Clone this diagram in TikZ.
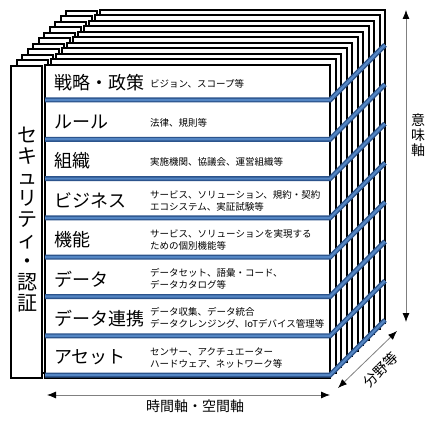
\documentclass[tikz,border=0pt]{standalone}
\usepackage{fontspec}
\setmainfont{Noto Sans CJK JP}
\usepackage{xcolor}
\usetikzlibrary{arrows.meta, positioning}
\definecolor{barline}{RGB}{44,84,140}
\definecolor{barfill}{RGB}{84,134,196}

\begin{document}
\begin{tikzpicture}[x=1pt, y=-1pt,
  layer/.style={draw=black, line width=2pt, fill=white},
  title/.style={anchor=west, inner sep=0pt, font=\fontsize{18}{20}\selectfont},
  note/.style={anchor=west, align=left, inner sep=0pt, font=\fontsize{9.5}{12}\selectfont},
  axis/.style={gray, line width=0.8pt,
    {Latex[black,length=9pt,width=7pt]}-{Latex[black,length=9pt,width=7pt]}},
  axlabel/.style={align=center, inner sep=0pt, font=\fontsize{14}{15}\selectfont}]
  \useasboundingbox (0,0) rectangle (431,425);

  % stacked layers, back to front
  \foreach \k in {10,...,1}{
    \draw[layer] ({11+5.5*\k},{66-5.5*\k}) rectangle ({42+5.5*\k},{378-5.5*\k});
    \draw[layer] ({45+5.5*\k},{65-5.5*\k}) rectangle ({330+5.5*\k},{378-5.5*\k});
  }
  \draw[layer] (11,66) rectangle (42,378);
  \draw[layer] (45,65) rectangle (330,378);

  % blue separators
  \def\bar#1{
    \draw[barline, line width=5pt] (45,#1) -- (330,#1) -- (385,#1-55);
    \draw[barfill, line width=2.2pt] (45,#1) -- (330,#1) -- (385,#1-55);
  }
  \foreach \i in {0,...,7}{
    \pgfmathsetmacro{\yy}{100+39.3*\i}
    \bar{\yy}
  }

  % security column
  \node[align=center, inner sep=0pt, font=\fontsize{20}{21}\selectfont] (security)
    at (27,220) {セ\\キ\\ュ\\リ\\テ\\ィ\\・\\認\\証};

  % rows
  \node[title] (strategy) at (54,82.5) {戦略・政策};
  \node[note] (strategynote) at (150,84) {ビジョン、スコープ等};
  \node[title] (rule) at (54,121.8) {ルール};
  \node[note] (rulenote) at (150,122.5) {法律、規則等};
  \node[title] (org) at (54,161.1) {組織};
  \node[note] (orgnote) at (150,162) {実施機関、協議会、運営組織等};
  \node[title] (business) at (54,200.4) {ビジネス};
  \node[note] (businessnote) at (150,201) {サービス、ソリューション、規約・契約\\エコシステム、実証試験等};
  \node[title] (function) at (54,239.7) {機能};
  \node[note] (functionnote) at (150,240) {サービス、ソリューションを実現する\\ための個別機能等};
  \node[title] (data) at (54,279) {データ};
  \node[note] (datanote) at (150,279) {データセット、語彙・コード、\\データカタログ等};
  \node[title] (link) at (54,318.3) {データ連携};
  \node[note] (linknote) at (150,318) {データ収集、データ統合\\データクレンジング、IoTデバイス管理等};
  \node[title] (asset) at (54,357.6) {アセット};
  \node[note] (assetnote) at (150,358) {センサー、アクチュエーター\\ハードウェア、ネットワーク等};

  % axes
  \coordinate (vtop) at (406,10);
  \coordinate (vbot) at (406,322);
  \draw[axis] (vbot) -- (vtop);
  \node[axlabel] (meaning) at (418,135) {意\\味\\軸};

  \coordinate (hleft) at (47,395);
  \coordinate (hright) at (330,395);
  \draw[axis] (hleft) -- (hright);
  \node[axlabel] (timespace) at (195,406) {時間軸・空間軸};

  \coordinate (dlow) at (338,388);
  \coordinate (dhigh) at (397,331);
  \draw[axis] (dlow) -- (dhigh);
  \node[axlabel, rotate=45] (field) at (381,370) {分野等};
\end{tikzpicture}
\end{document}
